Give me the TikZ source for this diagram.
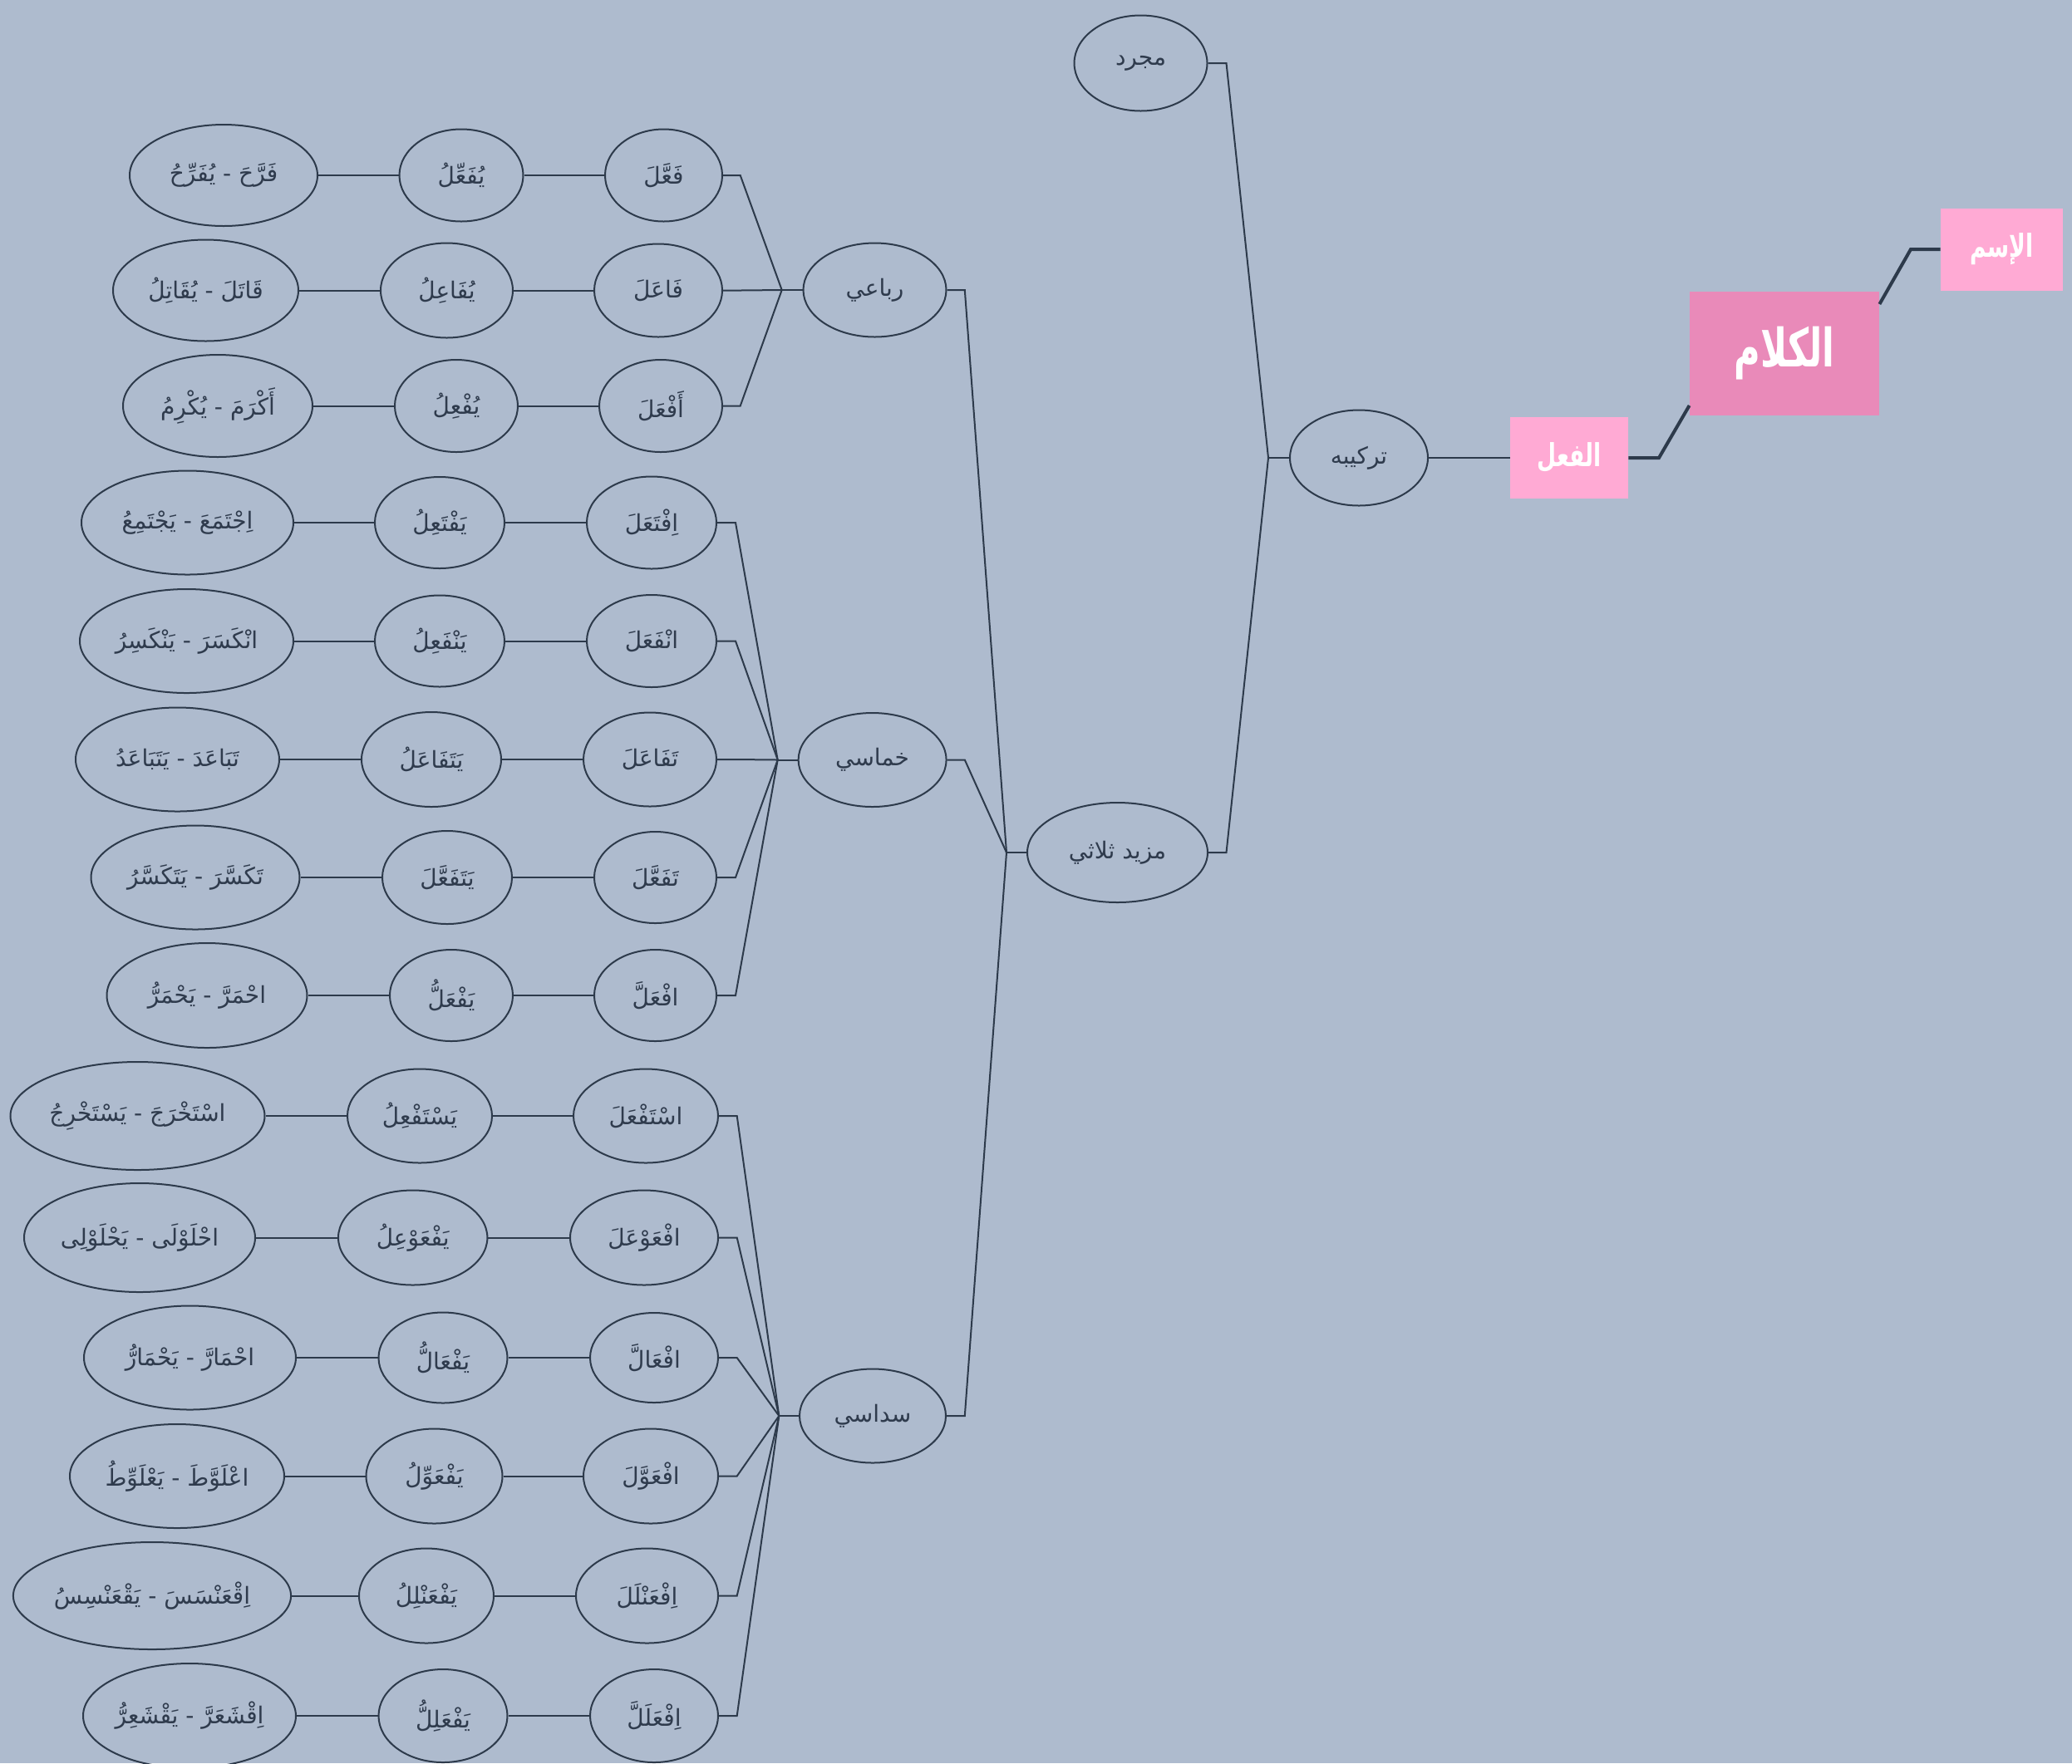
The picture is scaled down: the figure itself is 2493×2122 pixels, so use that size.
\documentclass[tikz,border=0pt]{standalone}
\usepackage{fontspec}
\usepackage{graphicx}
\usetikzlibrary{shapes.geometric}
\newfontfamily\ar[Script=Arabic]{DejaVu Sans}
\TeXXeTstate=1
\definecolor{bg}{HTML}{AEBBCE}
\definecolor{ln}{HTML}{2D3A4B}
\definecolor{txt}{HTML}{2F3B4D}
\definecolor{pinkA}{HTML}{E98AB9}
\definecolor{pinkB}{HTML}{FFAAD4}
% name, x, y, rx, ry, text
\newcommand\ov[6]{\node[oval, minimum width=#4pt, minimum height=#5pt] (#1) at (#2,#3) {\ar #6};}
\begin{document}
\begin{tikzpicture}[x=0.5pt,y=-0.5pt,
  oval/.style={draw=ln, line width=1pt, ellipse, inner sep=0pt, text=txt, font=\fontsize{14}{16}\selectfont},
  titlebox/.style={rectangle, inner sep=0pt, text=white, font=\bfseries},
  cn/.style={draw=ln, line width=1pt},
  mainln/.style={draw=ln, line width=2pt, line join=miter}]
\fill[bg] (0,0) rectangle (2493,2122);
\useasboundingbox (0,0) rectangle (2493,2122);

% ---------- top nodes ----------
\node[titlebox, fill=pinkA, minimum width=114pt, minimum height=74.5pt, font=\bfseries\fontsize{27}{30}\selectfont] (kalam) at (2147,425.5) {\scalebox{0.8}[1.18]{\ar\beginR الكلام\endR}};
\node[titlebox, fill=pinkB, minimum width=73.5pt, minimum height=49.5pt, font=\bfseries\fontsize{17}{20}\selectfont] (ism) at (2408.5,300) {\scalebox{0.78}[1.12]{\ar\beginR الإسم\endR}};
\node[titlebox, fill=pinkB, minimum width=71pt, minimum height=49pt, font=\bfseries\fontsize{17}{20}\selectfont] (fil) at (1888,551) {\scalebox{0.78}[1.12]{\ar\beginR الفعل\endR}};

\ov{tarkib}{1635}{551}{83}{57.5}{\beginR تركيبه\endR}
\ov{mujarrad}{1372.5}{76}{80}{57.5}{\beginR مجرد\endR}
\ov{mazid}{1344.5}{1026}{108.5}{60}{\beginR مزيد ثلاثي\endR}
\ov{ruba}{1052.5}{349}{86}{56.5}{\beginR رباعي\endR}
\ov{khumasi}{1049.6}{914.5}{89}{56.5}{\beginR خماسي\endR}
\ov{sudasi}{1050}{1704}{88}{56.5}{\beginR سداسي\endR}

% ---------- leaves: a = pattern, b = mudari', c = example ----------
\ov{a1}{798.5}{211}{70.5}{55.5}{\beginR فَعَّلَ\endR}
\ov{b1}{555}{211}{74.5}{55.5}{\beginR يُفَعِّلُ\endR}
\ov{c1}{269}{211}{113}{61}{\beginR فَرَّحَ - يُفَرِّحُ\endR}

\ov{a2}{792}{349.5}{77}{56}{\beginR فَاعَلَ\endR}
\ov{b2}{537.5}{349.5}{79.5}{57}{\beginR يُفَاعِلُ\endR}
\ov{c2}{247.5}{349.5}{111.5}{61}{\beginR قَاتَلَ - يُقَاتِلُ\endR}

\ov{a3}{795}{488.5}{74}{55.5}{\beginR أَفْعَلَ\endR}
\ov{b3}{549}{488.5}{74}{55.5}{\beginR يُفْعِلُ\endR}
\ov{c3}{262}{488.5}{114}{61.5}{\beginR أَكْرَمَ - يُكْرِمُ\endR}

\ov{a4}{784}{629}{78}{55.5}{\beginR اِفْتَعَلَ\endR}
\ov{b4}{529}{629}{78}{55}{\beginR يَفْتَعِلُ\endR}
\ov{c4}{225.5}{629}{127.5}{62.5}{\beginR اِجْتَمَعَ - يَجْتَمِعُ\endR}

\ov{a5}{784}{771.5}{78}{55.5}{\beginR انْفَعَلَ\endR}
\ov{b5}{529}{771.5}{78}{55}{\beginR يَنْفَعِلُ\endR}
\ov{c5}{224.5}{771.5}{128.5}{62.5}{\beginR انْكَسَرَ - يَنْكَسِرُ\endR}

\ov{a6}{782}{914}{80}{56.5}{\beginR تَفَاعَلَ\endR}
\ov{b6}{519}{914}{84}{57}{\beginR يَتَفَاعَلُ\endR}
\ov{c6}{213.5}{914}{122.5}{62.5}{\beginR تَبَاعَدَ - يَتَبَاعَدُ\endR}

\ov{a7}{788.5}{1056}{73.5}{55}{\beginR تَفَعَّلَ\endR}
\ov{b7}{538}{1056}{78}{56}{\beginR يَتَفَعَّلَ\endR}
\ov{c7}{235}{1056}{125.5}{62.5}{\beginR تَكَسَّرَ - يَتَكَسَّرُ\endR}

\ov{a8}{788.5}{1198}{73.5}{55}{\beginR افْعَلَّ\endR}
\ov{b8}{543}{1198}{74}{55}{\beginR يَفْعَلُّ\endR}
\ov{c8}{249}{1198}{120.5}{63}{\beginR احْمَرَّ - يَحْمَرُّ\endR}

\ov{a9}{777}{1343}{87}{56.5}{\beginR اسْتَفْعَلَ\endR}
\ov{b9}{505}{1343}{87}{56.5}{\beginR يَسْتَفْعِلُ\endR}
\ov{c9}{165.5}{1343}{153}{65}{\beginR اسْتَخْرَجَ - يَسْتَخْرِجُ\endR}

\ov{a10}{775}{1489.5}{89}{57}{\beginR افْعَوْعَلَ\endR}
\ov{b10}{496.7}{1489.5}{89.7}{57}{\beginR يَفْعَوْعِلُ\endR}
\ov{c10}{168}{1489.5}{139}{65.5}{\beginR احْلَوْلَى - يَحْلَوْلِى\endR}

\ov{a11}{787}{1634}{77}{54}{\beginR افْعَالَّ\endR}
\ov{b11}{533}{1634}{77.5}{54.5}{\beginR يَفْعَالُّ\endR}
\ov{c11}{228.5}{1634}{127.5}{62.5}{\beginR احْمَارَّ - يَحْمَارُّ\endR}

\ov{a12}{783}{1776.5}{81}{57}{\beginR افْعَوَّلَ\endR}
\ov{b12}{522.5}{1776.5}{82}{57}{\beginR يَفْعَوِّلُ\endR}
\ov{c12}{213}{1776.5}{129}{62.5}{\beginR اعْلَوَّطَ - يَعْلَوِّطُ\endR}

\ov{a13}{778.5}{1920.5}{85.5}{57}{\beginR اِفْعَنْلَلَ\endR}
\ov{b13}{513}{1920.5}{81}{57}{\beginR يَفْعَنْلِلُ\endR}
\ov{c13}{183}{1920.5}{149}{64.5}{\beginR اِقْعَنْسَسَ - يَقْعَنْسِسُ\endR}

\ov{a14}{787}{2065}{77}{56}{\beginR اِفْعَلَلَّ\endR}
\ov{b14}{533}{2065}{77.5}{56}{\beginR يَفْعَلِلُّ\endR}
\ov{c14}{228}{2065}{128}{63}{\beginR اِقْشَعَرَّ - يَقْشَعِرُّ\endR}

% ---------- connectors ----------
\foreach \r in {1,...,14}{
  \draw[cn] (a\r.west) -- (b\r.east);
  \draw[cn] (b\r.west) -- (c\r.east);
}
\coordinate (e1) at (890.7,0);  \coordinate (j1) at (940.7,349);
\coordinate (e2) at (885,0);    \coordinate (j2) at (935.7,914.5);
\coordinate (e3) at (886.7,0);  \coordinate (j3) at (937.3,1704);
\foreach \r in {1,2,3}{\draw[cn] (a\r.east) -- (a\r.east -| e1) -- (j1);}
\foreach \r in {4,...,8}{\draw[cn] (a\r.east) -- (a\r.east -| e2) -- (j2);}
\foreach \r in {9,...,14}{\draw[cn] (a\r.east) -- (a\r.east -| e3) -- (j3);}
\draw[cn] (j1) -- (ruba.west);
\draw[cn] (j2) -- (khumasi.west);
\draw[cn] (j3) -- (sudasi.west);

\coordinate (e4) at (1160.8,0); \coordinate (j4) at (1211,1026);
\draw[cn] (ruba.east) -- (ruba.east -| e4) -- (j4);
\draw[cn] (khumasi.east) -- (khumasi.east -| e4) -- (j4);
\draw[cn] (sudasi.east) -- (sudasi.east -| e4) -- (j4);
\draw[cn] (j4) -- (mazid.west);

\coordinate (e5) at (1475.5,0); \coordinate (j5) at (1526,551);
\draw[cn] (mazid.east) -- (mazid.east -| e5) -- (j5);
\draw[cn] (mujarrad.east) -- (mujarrad.east -| e5) -- (j5);
\draw[cn] (j5) -- (tarkib.west);
\draw[cn] (tarkib.east) -- (fil.west);

\coordinate (y488) at (0,488); \coordinate (y366) at (0,366);
\coordinate (f1) at (1996,551); \coordinate (k1) at (2299,300);
\draw[mainln] (fil.east) -- (f1) -- (kalam.west |- y488);
\draw[mainln] (kalam.east |- y366) -- (k1) -- (ism.west);
\end{tikzpicture}
\end{document}
